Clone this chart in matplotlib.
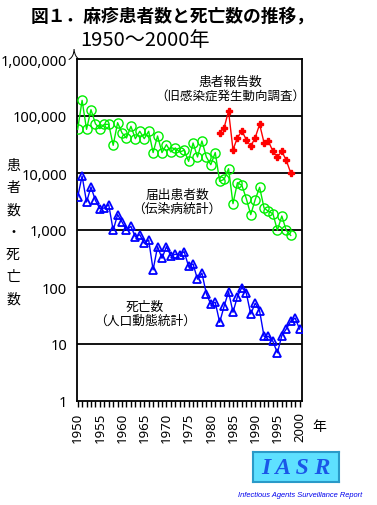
import matplotlib
matplotlib.use('Agg')
import matplotlib.pyplot as plt
import matplotlib.ticker as ticker
import numpy as np

plt.rcParams['font.family'] = ['Noto Sans CJK JP', 'DejaVu Sans']

# notified cases (infectious disease statistics), 1950-1998
notified_years = list(range(1950, 1999))
notified = [58300, 188000, 58300, 129000, 73300, 60000, 71400, 71400, 30600, 76400,
            50300, 41100, 65900, 40000, 53900, 40000, 53900, 22800, 44600, 22800,
            31400, 23400, 27500, 23400, 25000, 16000, 33600, 19100, 36400, 19100,
            14000, 22800, 7140, 7740, 11900, 2900, 6760, 6080, 3550, 1860,
            3410, 5610, 2430, 2120, 1930, 987, 1760, 987, 805]

# sentinel reports, 1982-1998
report_years = list(range(1982, 1999))
reports = [50300, 62400, 122000, 25600, 41700, 54500, 38500, 29400, 41700, 71400,
           34000, 35900, 24000, 19100, 24000, 16700, 10100]

# deaths (vital statistics), 1950-2000
death_years = list(range(1950, 2001))
deaths = [3800, 8850, 3100, 5670, 3310, 2370, 2430, 2780, 987, 1860,
          1380, 987, 1160, 754, 828, 585, 668, 200, 511, 319,
          511, 351, 375, 365, 418, 229, 254, 137, 175, 76,
          50, 54, 24, 46, 83, 36, 68, 98, 78, 33.5,
          52, 38, 13.6, 13.6, 11.1, 7.0, 14, 18.3, 25, 28.5, 18.3]

ytick_vals = [1, 10, 100, 1000, 10000, 100000, 1000000]
ytick_labels = ['1', '10', '100', '1,000', '10,000', '100,000', '1,000,000']

fig = plt.figure(figsize=(3.77, 5.06), dpi=100)
ax = fig.add_axes([77 / 377, 1 - 402 / 506, 225 / 377, 342 / 506])

ax.plot(notified_years, notified, color='#00ee00', lw=1, marker='o', ms=6.6,
        mfc='none', mec='#00ee00', mew=1.0, zorder=3)
ax.plot(report_years, reports, color='#ff0000', lw=1, marker='P', ms=4,
        mfc='#ff0000', mec='#ff0000', zorder=4)
ax.plot(death_years, deaths, color='#0000ff', lw=1, marker='^', ms=5.5,
        mfc='none', mec='#0000ff', mew=1.3, zorder=3)

ax.set_yscale('log')
ax.set_ylim(1, 1000000)
ax.set_xlim(1949.85, 2000.55)
ax.set_yticks(ytick_vals)
ax.set_yticklabels(ytick_labels, fontsize=10.5, family=['Noto Sans', 'DejaVu Sans'])
ax.yaxis.set_minor_locator(ticker.NullLocator())
ax.tick_params(axis='y', length=0, pad=7)
for v in ytick_vals[1:-1]:
    ax.axhline(v, color='black', lw=1.3, zorder=1)

ax.set_xticks(range(1950, 2001, 5))
ax.set_xticklabels([str(y) for y in range(1950, 2001, 5)], rotation=90,
                   fontsize=9.5, family=['Noto Sans', 'DejaVu Sans'])
ax.set_xticks(range(1950, 2001), minor=True)
ax.tick_params(axis='x', which='both', direction='out', length=4.5, width=1, pad=3)
for s in ax.spines.values():
    s.set_linewidth(1.3)

# labels inside the plot
ax.text(1984.3, 411000, '患者報告数', fontsize=9.2, ha='center', va='center')
ax.text(1984.3, 224000, '（旧感染症発生動向調査）', fontsize=9.0, ha='center', va='center')
ax.text(1972.4, 4280, '届出患者数', fontsize=9.2, ha='center', va='center')
ax.text(1972.4, 2430, '（伝染病統計）', fontsize=9.2, ha='center', va='center')
ax.text(1965.1, 46, '死亡数', fontsize=9.2, ha='center', va='center')
ax.text(1965.1, 26.4, '（人口動態統計）', fontsize=9.2, ha='center', va='center')

# title
fig.text(31 / 377, 1 - 16 / 506, '図１．麻疹患者数と死亡数の推移，', fontsize=12.8,
         fontweight='bold', ha='left', va='center')
fig.text(80 / 377, 1 - 40 / 506, '1950～2000年', fontsize=14.5, ha='left', va='center')

fig.text(68 / 377, 1 - 55 / 506, '人', fontsize=9, ha='left', va='center')
fig.text(312 / 377, 1 - 427 / 506, '年', fontsize=10, ha='left', va='center')

# vertical y label
ylab = '患者数・死亡数'
for i, ch in enumerate(ylab):
    fig.text(13 / 377, 1 - (166 + i * 22.2) / 506, ch, fontsize=10,
             ha='center', va='center')

# IASR logo
lax = fig.add_axes([253 / 377, 1 - 483 / 506, 86 / 377, 30 / 506])
lax.set_xlim(0, 1)
lax.set_ylim(0, 1)
lax.set_facecolor('#5ee0ff')
for s in lax.spines.values():
    s.set_color('#2a9ac8')
    s.set_linewidth(1.5)
lax.set_xticks([])
lax.set_yticks([])
lax.text(0.5, 0.47, 'I A S R', fontsize=17, fontweight='bold', style='italic',
         family=['Liberation Serif', 'DejaVu Serif'], color='#1a56e8',
         ha='center', va='center')
fig.text(300 / 377, 1 - 496 / 506, 'Infectious Agents Surveillance Report', fontsize=5.4,
         style='italic', family=['Liberation Sans Narrow', 'Liberation Sans', 'DejaVu Sans'],
         color='#0000ee', ha='center', va='center')

fig.savefig('out.png', dpi=100)
